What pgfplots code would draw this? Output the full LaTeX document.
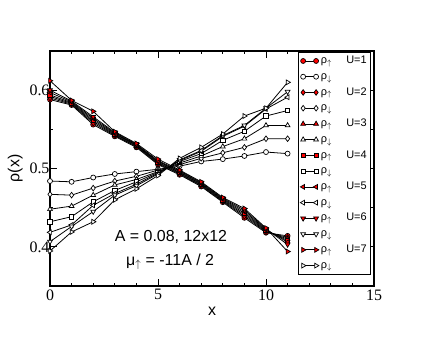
\documentclass[border=0pt]{standalone}
\usepackage{fontspec}
\setmainfont{Liberation Sans}
\newfontfamily\tickfont{Liberation Serif}
\usepackage{pgfplots}
\usepackage{pgfplotstable}
\pgfplotsset{compat=1.18}

% rho_up (red markers)
\pgfplotstableread{
x   u1    u2    u3    u4    u5    u6    u7
0   0.588 0.590 0.592 0.594 0.597 0.600 0.612
1   0.581 0.582 0.583 0.584 0.585 0.586 0.587
2   0.556 0.558 0.560 0.562 0.564 0.566 0.573
3   0.541 0.542 0.543 0.544 0.545 0.546 0.547
4   0.527 0.528 0.529 0.530 0.530 0.531 0.532
5   0.505 0.506 0.507 0.508 0.509 0.510 0.512
6   0.492 0.493 0.494 0.495 0.496 0.497 0.498
7   0.477 0.478 0.479 0.480 0.481 0.482 0.483
8   0.457 0.458 0.459 0.460 0.461 0.462 0.463
9   0.437 0.439 0.441 0.443 0.445 0.447 0.449
10  0.418 0.419 0.420 0.421 0.422 0.423 0.424
11  0.414 0.412 0.410 0.408 0.406 0.403 0.394
}\uptable

% rho_down (open markers)
\pgfplotstableread{
x   d1     d2    d3    d4     d5     d6     d7
0   0.484  0.467 0.448 0.432  0.4185 0.4066 0.3947
1   0.483  0.466 0.452 0.4385 0.428  0.426  0.419
2   0.4885 0.475 0.466 0.4575 0.453  0.445  0.432
3   0.493  0.484 0.479 0.472  0.468  0.466  0.460
4   0.496  0.490 0.486 0.483  0.480  0.478  0.474
5   0.499  0.498 0.496 0.495  0.494  0.493  0.491
6   0.503  0.505 0.507 0.509  0.510  0.511  0.513
7   0.509  0.513 0.516 0.519  0.522  0.523  0.527
8   0.512  0.520 0.528 0.536  0.541  0.542  0.544
9   0.516  0.527 0.538 0.5475 0.554  0.555  0.567
10  0.521  0.538 0.555 0.567  0.576  0.577  0.577
11  0.519  0.538 0.555 0.574  0.591  0.598  0.610
}\dntable

\pgfplotsset{
  up/.style={black, line width=0.8pt,
    mark options={solid, fill=red, draw=black, line width=0.7pt}},
  dn/.style={black, line width=0.8pt,
    mark options={solid, fill=white, draw=black, line width=0.7pt}},
  rot/.style={every mark/.append style={rotate=#1}},
}

\newcommand{\uplab}[1]{\makebox[46pt][l]{ρ$_\uparrow$\hfill U=#1}}
\newcommand{\dnlab}{\makebox[46pt][l]{ρ$_\downarrow$}}

\begin{document}
\begin{tikzpicture}
\useasboundingbox (-50bp,-51bp) rectangle (386bp,286bp);
\begin{axis}[
  scale only axis, width=324bp, height=235bp,
  xmin=0, xmax=15, ymin=0.35, ymax=0.65,
  xtick={0,5,10,15}, ytick={0.4,0.5,0.6},
  minor x tick num=4, minor y tick num=1,
  tick align=inside, major tick length=7pt, minor tick length=3.5pt,
  axis line style={line width=1.1pt},
  every tick/.style={black, line width=0.8pt},
  ticklabel style={font=\tickfont\fontsize{16}{16}\selectfont},
  /pgf/number format/assume math mode=true,
  yticklabel style={xshift=3pt, /pgf/number format/fixed,
    /pgf/number format/precision=1, /pgf/number format/fixed zerofill},
  xlabel={x}, ylabel={ρ(x)},
  label style={font=\fontsize{16}{18}\selectfont},
  legend image code/.code={\draw[mark repeat=1,#1] plot coordinates {(0pt,0pt) (13pt,0pt)};},
  legend cell align=left,
  legend style={at={(0.991,0.997)}, anchor=north east, draw=black, line width=0.8pt,
    font=\fontsize{11}{13}\selectfont, row sep=0pt, inner xsep=2pt, inner ysep=1pt,
    nodes={text height=8.5pt, text depth=3.3pt, inner ysep=2pt, inner xsep=2pt}},
]
\addplot[up, mark=*, mark size=2.5pt] table[x=x, y=u1] {\uptable};
\addlegendentry{\uplab{1}}
\addplot[dn, mark=*, mark size=2.5pt] table[x=x, y=d1] {\dntable};
\addlegendentry{\dnlab}
\addplot[up, mark=diamond*, mark size=2.8pt] table[x=x, y=u2] {\uptable};
\addlegendentry{\uplab{2}}
\addplot[dn, mark=diamond*, mark size=2.8pt] table[x=x, y=d2] {\dntable};
\addlegendentry{\dnlab}
\addplot[up, mark=triangle*, mark size=2.8pt] table[x=x, y=u3] {\uptable};
\addlegendentry{\uplab{3}}
\addplot[dn, mark=triangle*, mark size=2.8pt] table[x=x, y=d3] {\dntable};
\addlegendentry{\dnlab}
\addplot[up, mark=square*, mark size=2.2pt] table[x=x, y=u4] {\uptable};
\addlegendentry{\uplab{4}}
\addplot[dn, mark=square*, mark size=2.2pt] table[x=x, y=d4] {\dntable};
\addlegendentry{\dnlab}
\addplot[up, mark=triangle*, mark size=2.8pt, rot=90] table[x=x, y=u5] {\uptable};
\addlegendentry{\uplab{5}}
\addplot[dn, mark=triangle*, mark size=2.8pt, rot=90] table[x=x, y=d5] {\dntable};
\addlegendentry{\dnlab}
\addplot[up, mark=triangle*, mark size=2.8pt, rot=180] table[x=x, y=u6] {\uptable};
\addlegendentry{\uplab{6}}
\addplot[dn, mark=triangle*, mark size=2.8pt, rot=180] table[x=x, y=d6] {\dntable};
\addlegendentry{\dnlab}
\addplot[up, mark=triangle*, mark size=2.8pt, rot=-90] table[x=x, y=u7] {\uptable};
\addlegendentry{\uplab{7}}
\addplot[dn, mark=triangle*, mark size=2.8pt, rot=-90] table[x=x, y=d7] {\dntable};
\addlegendentry{\dnlab}
\node[font=\fontsize{16}{18}\selectfont] at (axis cs:5.6,0.4125) {A = 0.08, 12x12};
\node[font=\fontsize{16}{18}\selectfont] at (axis cs:5.56,0.381) {μ$_\uparrow$ = -11A / 2};
\end{axis}
\end{tikzpicture}
\end{document}
